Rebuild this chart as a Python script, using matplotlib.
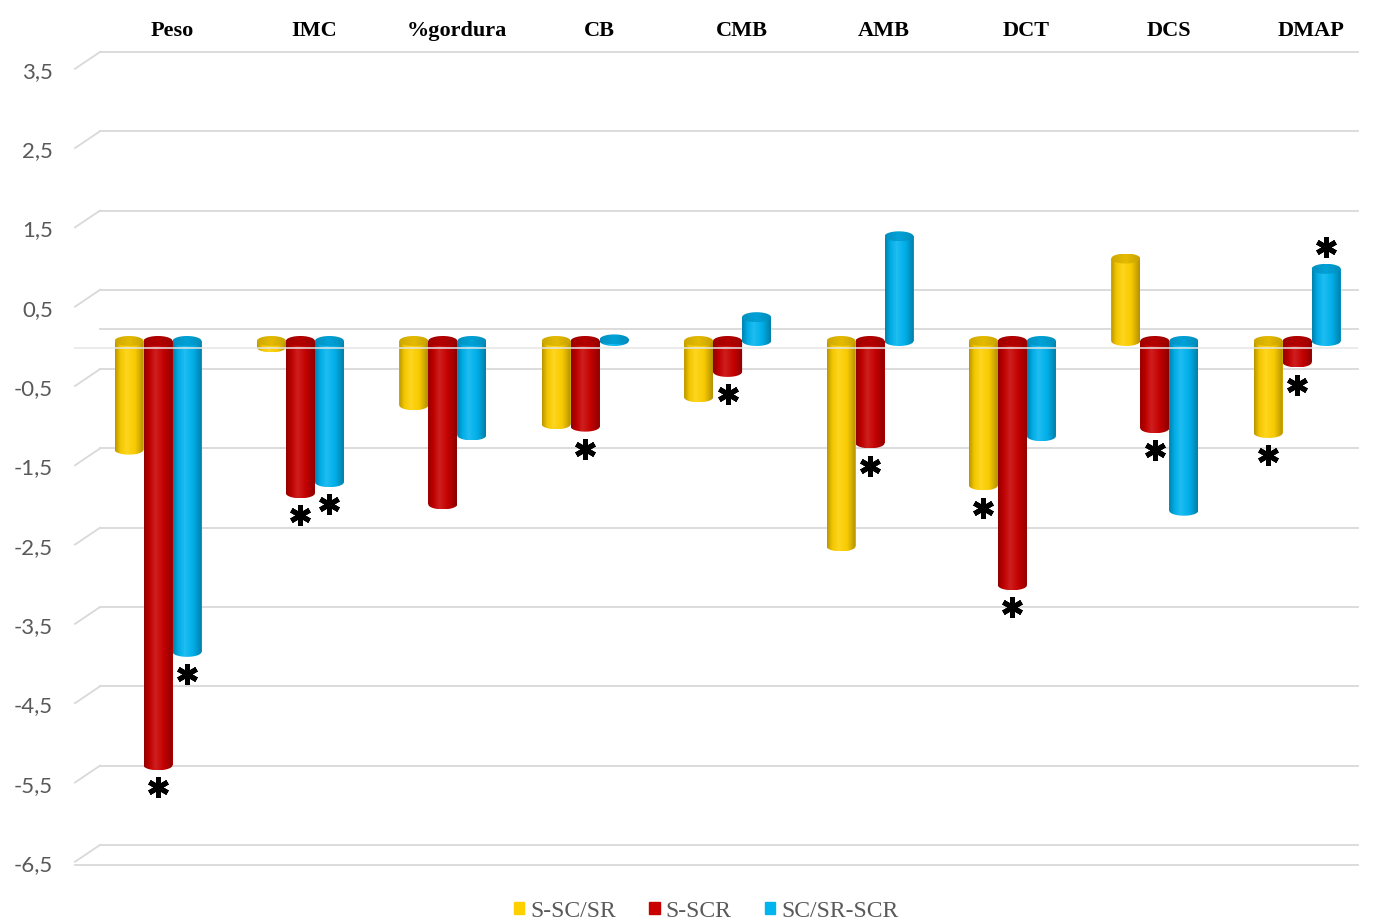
import numpy as np
import matplotlib
matplotlib.use("Agg")
import matplotlib.pyplot as plt
from matplotlib.patches import Patch
from matplotlib.path import Path
from matplotlib.colors import LinearSegmentedColormap, to_rgb

# ---- data -------------------------------------------------------------
categories = ["Peso", "IMC", "%gordura", "CB", "CMB", "AMB", "DCT", "DCS", "DMAP"]
series_names = ["S-SC/SR", "S-SCR", "SC/SR-SCR"]

s_sc_sr = [-1.37, -0.08, -0.81, -1.05, -0.71, -2.59, -1.82, 1.04, -1.16]
s_scr = [-5.35, -1.92, -2.06, -1.08, -0.39, -1.29, -3.08, -1.10, -0.27]
sc_sr_scr = [-3.92, -1.78, -1.19, 0.02, 0.30, 1.32, -1.20, -2.14, 0.91]

# significant differences (marked with *)
sig_s_sc_sr = [0, 0, 0, 0, 0, 0, 1, 0, 1]
sig_s_scr = [1, 1, 0, 1, 1, 1, 1, 1, 1]
sig_sc_sr_scr = [1, 1, 0, 0, 0, 0, 0, 0, 1]

yticks = [3.5, 2.5, 1.5, 0.5, -0.5, -1.5, -2.5, -3.5, -4.5, -5.5, -6.5]
ytick_labels = ["3,5", "2,5", "1,5", "0,5", "-0,5", "-1,5", "-2,5",
                "-3,5", "-4,5", "-5,5", "-6,5"]

colors = ["#FFD000", "#C80000", "#00B4F0"]

# ---- layout helpers -----------------------------------------------------
W, H = 1373, 921
PX_PER_UNIT = 79.3
ZERO_PX = 341.0
GROUP_PX0 = 158.0
GROUP_STEP = 142.4


def px_to_x(px):
    return (px - GROUP_PX0) / GROUP_STEP


def py_to_y(py):
    return (ZERO_PX - py) / PX_PER_UNIT


back = py_to_y(329.5)   # back wall offset
front = py_to_y(349.5)  # front edge offset

fig = plt.figure(figsize=(W / 100, H / 100), dpi=100)
ax = fig.add_axes([0, 0, 1, 1])
ax.axis("off")
ax.set_xlim(px_to_x(0), px_to_x(W))
ax.set_ylim(py_to_y(H), py_to_y(0))

grid_c = "#D9D9D9"
xl_back, xl_front, xr = px_to_x(100), px_to_x(75), px_to_x(1358)

# back wall gridlines with the short perspective diagonals
for t, lab in zip(yticks, ytick_labels):
    ax.plot([xl_back, xr], [t + back, t + back], color=grid_c, lw=1.3, zorder=0)
    ax.plot([xl_front, xl_back], [t + front + 0.04, t + back], color=grid_c,
            lw=1.3, zorder=0)
    ax.text(px_to_x(53), t + front, lab, ha="right", va="center",
            fontsize=16, color="#595959", family="Lato")

# floor edges
ax.plot([xl_back, xr], [back, back], color=grid_c, lw=1.3, zorder=0)
ax.plot([xl_front, xr], [yticks[-1] + front, yticks[-1] + front],
        color=grid_c, lw=1.3, zorder=0)

# ---- cylinders ------------------------------------------------------------
bw = 29.0 / GROUP_STEP
ell = 5.0 / PX_PER_UNIT  # half height of the elliptical ends
x = np.arange(len(categories))


def shade(c, f):
    r = np.array(to_rgb(c))
    if f < 1:
        return tuple(r * f)
    return tuple(r + (1 - r) * (f - 1))


def side_cmap(c):
    return LinearSegmentedColormap.from_list(
        "side", [(0.0, shade(c, 0.72)), (0.18, shade(c, 0.95)),
                 (0.40, shade(c, 1.12)), (0.70, shade(c, 0.97)),
                 (1.0, shade(c, 0.70))])


def cap_cmap(c):
    return LinearSegmentedColormap.from_list(
        "cap", [(0.0, shade(c, 0.80)), (0.5, shade(c, 0.90)),
                (1.0, shade(c, 0.78))])


grad = np.linspace(0, 1, 128).reshape(1, -1)
theta_lo = np.linspace(np.pi, 2 * np.pi, 40)
theta_full = np.linspace(0, 2 * np.pi, 80)

all_series = [s_sc_sr, s_scr, sc_sr_scr]
all_sig = [sig_s_sc_sr, sig_s_scr, sig_sc_sr_scr]
offsets = [-bw, 0.0, bw]

for vals, sig, off, c, name in zip(all_series, all_sig, offsets, colors,
                                   series_names):
    bars = ax.bar(x + off, vals, width=bw, color=c, linewidth=0, zorder=3,
                  label=name)
    for rect in bars:
        x0 = rect.get_x()
        w = rect.get_width()
        y0 = rect.get_y()
        h = rect.get_height()
        ybot, ytop = min(y0, y0 + h), max(y0, y0 + h)
        xc = x0 + w / 2
        a = w / 2
        # silhouette: straight sides plus rounded bottom
        arc = np.column_stack([xc + a * np.cos(theta_lo),
                               ybot + ell * np.sin(theta_lo)])
        verts = np.vstack([[x0, ytop], arc, [x0 + w, ytop], [x0, ytop]])
        sil = Path(verts, closed=True)
        im = ax.imshow(grad, cmap=side_cmap(c), aspect="auto",
                       extent=(x0, x0 + w, ybot - ell, ytop),
                       interpolation="bilinear", zorder=3.1)
        im.set_clip_path(sil, ax.transData)
        # top face
        cap = Path(np.column_stack([xc + a * np.cos(theta_full),
                                    ytop + ell * np.sin(theta_full)]),
                   closed=True)
        imc = ax.imshow(grad, cmap=cap_cmap(c), aspect="auto",
                        extent=(x0, x0 + w, ytop - ell, ytop + ell),
                        interpolation="bilinear", zorder=3.2)
        imc.set_clip_path(cap, ax.transData)

    # significance markers
    for xi, v, s in zip(x + off, vals, sig):
        if s:
            ys = v - 0.28 if v < 0 else v + 0.28
            ax.plot(xi, ys, marker=(6, 2, 0), ms=15, mew=3.6,
                    color="black", zorder=6)

# front edge of the zero plane, seen across the cylinders
ax.plot([xl_front, px_to_x(1357)], [py_to_y(348), py_to_y(348)],
        color="#E6E6E6", lw=1.3, alpha=0.85, zorder=4)

# category names along the top
for i, cat in enumerate(categories):
    ax.text(i + 14 / GROUP_STEP, py_to_y(31), cat, ha="center", va="center",
            fontsize=16, fontweight="bold", family="Liberation Serif",
            color="black")

ax.set_xlim(px_to_x(0), px_to_x(W))
ax.set_ylim(py_to_y(H), py_to_y(0))

handles = [Patch(color=c) for c in colors]
fig.legend(handles, series_names, loc="center",
           bbox_to_anchor=(706 / W, 1 - 911 / H), ncol=3, frameon=False,
           prop={"family": "Liberation Serif", "size": 17},
           labelcolor="#595959", handlelength=0.45, handleheight=0.45,
           handletextpad=0.25, columnspacing=1.4)

fig.savefig("out.png", dpi=100)
